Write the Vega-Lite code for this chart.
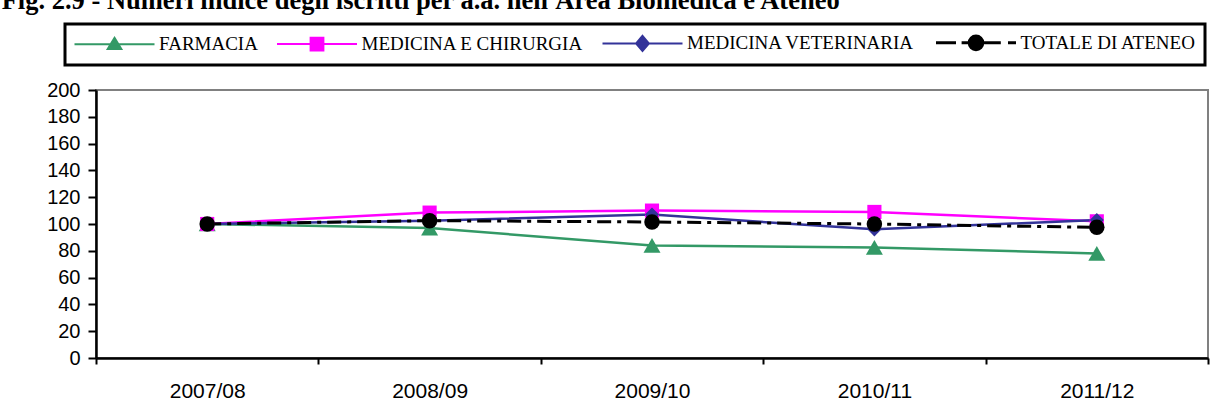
{
  "$schema": "https://vega.github.io/schema/vega-lite/v6.json",
  "width": 1112,
  "height": 268,
  "autosize": "none",
  "padding": {"left": 96, "top": 90, "right": 19, "bottom": 54},
  "background": "white",
  "title": {
    "text": "Fig. 2.9 - Numeri indice degli iscritti per a.a. nell'Area Biomedica e Ateneo",
    "anchor": "start",
    "frame": "bounds",
    "font": "Liberation Serif",
    "fontSize": 26.5,
    "fontWeight": "bold",
    "color": "black",
    "offset": 8,
    "dx": -45
  },
  "data": {
    "values": [
      {"year": "2007/08", "series": "FARMACIA", "value": 100},
      {"year": "2008/09", "series": "FARMACIA", "value": 97},
      {"year": "2009/10", "series": "FARMACIA", "value": 84},
      {"year": "2010/11", "series": "FARMACIA", "value": 82.5},
      {"year": "2011/12", "series": "FARMACIA", "value": 78},
      {"year": "2007/08", "series": "MEDICINA E CHIRURGIA", "value": 100},
      {"year": "2008/09", "series": "MEDICINA E CHIRURGIA", "value": 108.5},
      {"year": "2009/10", "series": "MEDICINA E CHIRURGIA", "value": 110},
      {"year": "2010/11", "series": "MEDICINA E CHIRURGIA", "value": 109},
      {"year": "2011/12", "series": "MEDICINA E CHIRURGIA", "value": 102},
      {"year": "2007/08", "series": "MEDICINA VETERINARIA", "value": 100},
      {"year": "2008/09", "series": "MEDICINA VETERINARIA", "value": 102.5},
      {"year": "2009/10", "series": "MEDICINA VETERINARIA", "value": 107},
      {"year": "2010/11", "series": "MEDICINA VETERINARIA", "value": 96},
      {"year": "2011/12", "series": "MEDICINA VETERINARIA", "value": 103},
      {"year": "2007/08", "series": "TOTALE DI ATENEO", "value": 100},
      {"year": "2008/09", "series": "TOTALE DI ATENEO", "value": 102.5},
      {"year": "2009/10", "series": "TOTALE DI ATENEO", "value": 101.5},
      {"year": "2010/11", "series": "TOTALE DI ATENEO", "value": 100},
      {"year": "2011/12", "series": "TOTALE DI ATENEO", "value": 97.5}
    ]
  },
  "encoding": {
    "x": {
      "field": "year",
      "type": "ordinal",
      "bandPosition": 0.5,
      "scale": {"type": "band", "paddingInner": 0, "paddingOuter": 0},
      "axis": {
        "title": null,
        "labelAngle": 0,
        "tickBand": "extent",
        "tickSize": 6,
        "labelPadding": 16,
        "labelFont": "Liberation Sans",
        "labelFontSize": 21
      }
    },
    "y": {
      "field": "value",
      "type": "quantitative",
      "scale": {"domain": [0, 200], "nice": false},
      "axis": {
        "title": null,
        "values": [0, 20, 40, 60, 80, 100, 120, 140, 160, 180, 200],
        "tickSize": 8,
        "labelPadding": 8,
        "labelFont": "Liberation Sans",
        "labelFontSize": 20
      }
    },
    "color": {
      "field": "series",
      "type": "nominal",
      "scale": {
        "domain": ["FARMACIA", "MEDICINA E CHIRURGIA", "MEDICINA VETERINARIA", "TOTALE DI ATENEO"],
        "range": ["#339966", "#FF00FF", "#333399", "#000000"]
      },
      "legend": {
        "title": null,
        "orient": "none",
        "legendX": -31,
        "legendY": -66,
        "direction": "horizontal",
        "columns": 4,
        "symbolSize": 6400,
        "symbolOffset": 31,
        "labelFont": "Liberation Serif",
        "labelFontSize": 19,
        "labelColor": "black",
        "labelLimit": 500,
        "labelOffset": 35,
        "columnPadding": 14.5,
        "padding": 9,
        "strokeColor": "black",
        "encode": {
          "legend": {"update": {"strokeWidth": {"value": 3}}},
          "symbols": {
            "update": {
              "shape": {"signal": "datum.value === 'FARMACIA' ? 'M-1,0H1M0,-0.16L0.17,0.12L-0.17,0.12Z' : datum.value === 'MEDICINA E CHIRURGIA' ? 'M-1,0H1M-0.16,-0.16H0.16V0.16H-0.16Z' : datum.value === 'MEDICINA VETERINARIA' ? 'M-1,0H1M0,-0.19L0.16,0L0,0.19L-0.16,0Z' : 'M-1,0H-0.5M-0.36,0H0.62M0.8,0H1M-0.17,0A0.17,0.17 0 1,0 0.17,0A0.17,0.17 0 1,0 -0.17,0Z'"},
              "size": {"value": 6400},
              "fill": {"scale": "color", "field": "value"},
              "stroke": {"scale": "color", "field": "value"},
              "strokeWidth": {"signal": "datum.value === 'TOTALE DI ATENEO' ? 3 : 2"},
              "strokeDash": {"value": []},
              "opacity": {"value": 1},
              "fillOpacity": {"value": 1},
              "strokeOpacity": {"value": 1}
            }
          }
        }
      }
    }
  },
  "layer": [
    {
      "transform": [{"filter": "datum.series !== 'TOTALE DI ATENEO'"}],
      "mark": {"type": "line", "strokeWidth": 2.5}
    },
    {
      "transform": [{"filter": "datum.series === 'TOTALE DI ATENEO'"}],
      "mark": {"type": "line", "strokeWidth": 3, "strokeDash": [14, 6, 4, 6]}
    },
    {
      "transform": [{"filter": "datum.series === 'FARMACIA'"}],
      "mark": {"type": "point", "filled": true, "opacity": 1, "shape": "triangle-up", "size": 289}
    },
    {
      "transform": [{"filter": "datum.series === 'MEDICINA E CHIRURGIA'"}],
      "mark": {"type": "point", "filled": true, "opacity": 1, "shape": "square", "size": 200}
    },
    {
      "transform": [{"filter": "datum.series === 'MEDICINA VETERINARIA'"}],
      "mark": {"type": "point", "filled": true, "opacity": 1, "shape": "diamond", "size": 200}
    },
    {
      "transform": [{"filter": "datum.series === 'TOTALE DI ATENEO'"}],
      "mark": {"type": "point", "filled": true, "opacity": 1, "shape": "circle", "size": 240}
    }
  ],
  "config": {
    "view": {"stroke": "#808080", "strokeWidth": 2},
    "axis": {
      "grid": false,
      "domainColor": "black",
      "domainWidth": 2.5,
      "tickColor": "black",
      "tickWidth": 2,
      "labelColor": "black"
    }
  }
}
